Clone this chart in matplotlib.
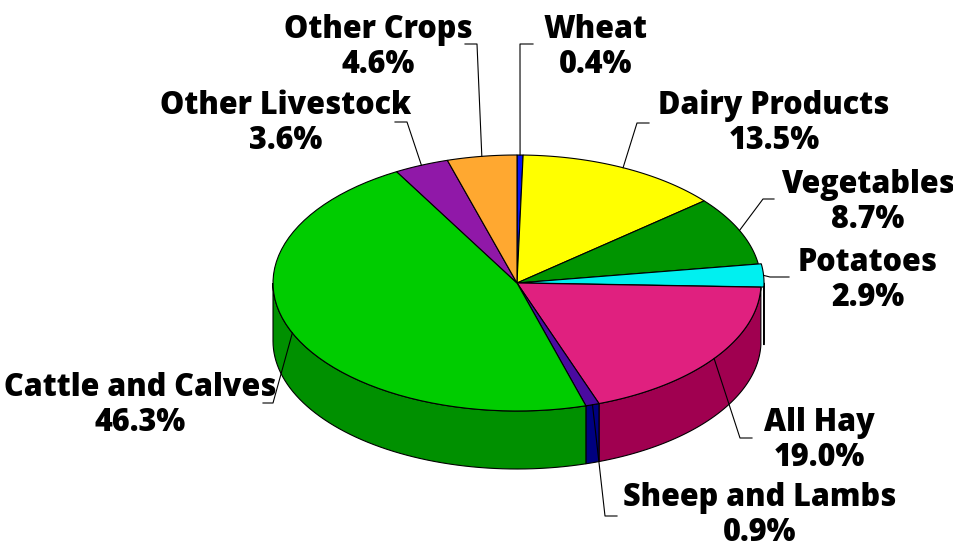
import numpy as np
import matplotlib.pyplot as plt
from matplotlib.patches import Polygon

# Data
categories = ['Wheat', 'Dairy Products', 'Vegetables', 'Potatoes', 'All Hay',
              'Sheep and Lambs', 'Cattle and Calves', 'Other Livestock',
              'Other Crops']
shares = [0.4, 13.5, 8.7, 2.9, 19.0, 0.9, 46.3, 3.6, 4.6]

# Styles
top_colors = ['#0a14f0', '#ffff00', '#009400', '#00f0f0', '#e0207f',
              '#4a0aa0', '#00cc00', '#9018a8', '#ffa830']
wall_colors = ['#0008a0', '#b0b000', '#006400', '#00c0c0', '#a00050',
               '#000080', '#009000', '#601070', '#c07818']
explode = [0, 0, 0, 3, 0, 0, 0, 0, 0]

# Layout in pixel units (y grows downwards)
cx, cy, rx, ry, depth = 517, 283, 244, 128, 58
label_xy = [(596, 30), (774, 106), (868, 185), (868, 263), (819, 423),
            (760, 498), (140, 388), (286, 106), (378, 30)]
elbows = [[(520, 44), (533, 44)], [(637, 123), (649, 123)],
          [(763, 199), (774, 199)], [(770, 277), (789, 277)],
          [(740, 438), (752, 438)], [(605, 516), (617, 516)],
          [(273, 403), (263, 403)], [(407, 122), (395, 122)],
          [(477, 44), (465, 44)]]


def arc(t1, t2, ox=0.0, oy=0.0, n=60):
    ts = np.radians(np.linspace(t1, t2, n))
    return cx + ox + rx * np.cos(ts), cy + oy - ry * np.sin(ts)


fig = plt.figure(figsize=(9.54, 5.48), dpi=100)
ax = fig.add_axes([0, 0, 1, 1])
ax.set_xlim(0, 954)
ax.set_ylim(548, 0)
ax.axis('off')

total = sum(shares)
start = 90.0
for i, (name, s) in enumerate(zip(categories, shares)):
    end = start - s * 360.0 / total
    mid = np.radians((start + end) / 2)
    ox = explode[i] * np.cos(mid)
    oy = -explode[i] * np.sin(mid)

    # front walls
    for k in (-360, 0, 360):
        lo = max(end, -180 + k)
        hi = min(start, k)
        if hi > lo:
            xs, ys = arc(hi, lo, ox, oy)
            px = np.concatenate([xs, xs[::-1]])
            py = np.concatenate([ys, ys[::-1] + depth])
            ax.add_patch(Polygon(np.column_stack([px, py]), closed=True,
                                 facecolor=wall_colors[i], edgecolor='black',
                                 linewidth=0.8, zorder=1))

    # top face
    xs, ys = arc(start, end, ox, oy)
    px = np.concatenate([[cx + ox], xs])
    py = np.concatenate([[cy + oy], ys])
    ax.add_patch(Polygon(np.column_stack([px, py]), closed=True,
                         facecolor=top_colors[i], edgecolor='black',
                         linewidth=0.8, zorder=2))

    # leader line + label
    axp = cx + ox + rx * np.cos(mid)
    ayp = cy + oy - ry * np.sin(mid)
    lx = [axp] + [p[0] for p in elbows[i]]
    ly = [ayp] + [p[1] for p in elbows[i]]
    ax.plot(lx, ly, color='black', linewidth=0.8, zorder=3)

    tx, ty = label_xy[i]
    ax.text(tx, ty, name, ha='center', va='center', fontsize=22,
            family='Open Sans', weight='heavy', zorder=4)
    ax.text(tx, ty + 35, '{:.1f}%'.format(s), ha='center', va='center',
            fontsize=22, family='Open Sans', weight='heavy', zorder=4)

    start = end

plt.savefig('out.png', dpi=100)
